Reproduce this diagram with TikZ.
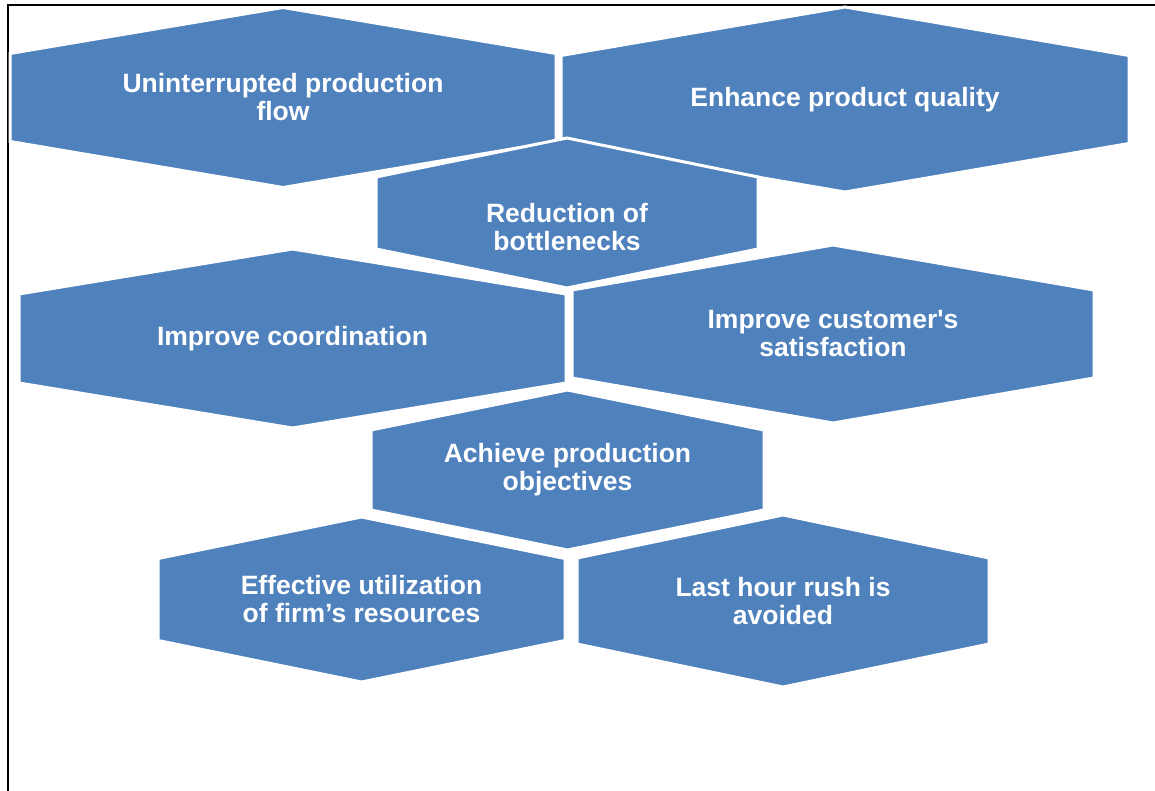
\documentclass[tikz,border=0pt]{standalone}
\usepackage{fontspec}
\setmainfont{Liberation Sans}
\usepackage{tikz}
\definecolor{HBlue}{HTML}{4F81BD}

% #1 label options, #2 name, #3 cx, #4 cy, #5 half width, #6 half side, #7 tip, #8 text
\newcommand{\hexcell}[8][]{%
  \filldraw[hexfill] (#3-#5,#4-#6) -- (#3,#4-#7) -- (#3+#5,#4-#6) -- (#3+#5,#4+#6)
    -- (#3,#4+#7) -- (#3-#5,#4+#6) -- cycle;
  \node[hexlabel,#1] (#2) at (#3,#4) {#8};
}

\begin{document}
\begin{tikzpicture}[
  x=1pt,y=-1pt,
  hexfill/.style={fill=HBlue,draw=white,line width=3pt,line join=miter},
  hexlabel/.style={text=white,align=center,inner sep=0pt,
    font=\fontsize{26.5}{28}\selectfont\bfseries},
  frame/.style={draw=black,line width=1.5pt}
]
  \useasboundingbox (0,0) rectangle (1155,791);
  \draw[frame] (8,791) -- (8,5) -- (1155,5);

  \hexcell{flow}{283}{97.5}{273}{44}{90}{Uninterrupted production\\flow}
  \hexcell{quality}{845}{99.5}{284}{44}{92.5}{Enhance product quality}
  \hexcell[yshift=-14pt]{bottle}{567}{213}{191}{36}{75}{Reduction of\\bottlenecks}
  \hexcell{coord}{292.5}{338.5}{273.5}{44.5}{89.5}{Improve coordination}
  \hexcell{cust}{833}{334}{261}{44}{89}{Improve customer\textquotesingle s\\satisfaction}
  \hexcell{objs}{567.5}{470}{196.5}{40}{80}{Achieve production\\objectives}
  \hexcell{res}{361.5}{599.5}{203.5}{41}{82.5}{Effective utilization\\of firm’s resources}
  \hexcell{rush}{783}{601}{206}{43}{86}{Last hour rush is\\avoided}
\end{tikzpicture}
\end{document}
